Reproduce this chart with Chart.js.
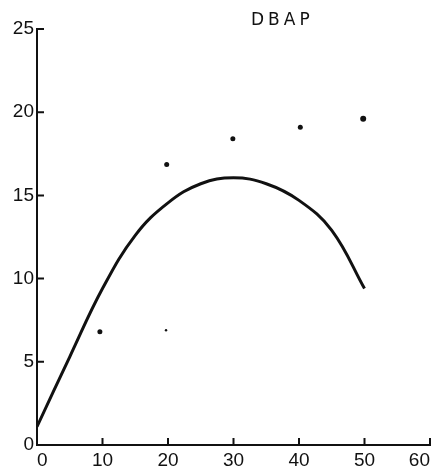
<!DOCTYPE html>
<html>
<head>
<meta charset="utf-8">
<script src="https://cdn.jsdelivr.net/npm/chart.js@4/dist/chart.umd.min.js"></script>
<style>
    html, body { margin: 0; padding: 0; background: #fff; }
    #wrap { position: relative; width: 436px; height: 468px; }
    #title { position: absolute; left: 251px; top: 9px; font: 17px "DejaVu Sans", sans-serif; letter-spacing: 4px; color: #111; }
</style>
</head>
<body>
<div id="wrap">
    <canvas id="dbapChart" width="436" height="468"></canvas>
    <div id="title">DBAP</div>
</div>
<script>
// ==============================================================================
// DATA
// ==============================================================================
const curveX = [0, 5, 10, 15, 20, 25, 30, 35, 40, 45, 50];
const curveY = [1.1, 5.3, 9.4, 12.6, 14.55, 15.7, 16.06, 15.7, 14.7, 12.9, 9.4];

const dotX = [9.6, 19.7, 19.8, 29.9, 40.2, 49.8];
const dotY = [6.8, 6.9, 16.85, 18.4, 19.1, 19.6];
const dotSize = [2.5, 1.2, 2.5, 2.5, 2.5, 3];

const xTicks = [0, 10, 20, 30, 40, 50, 60];
const yTicks = [0, 5, 10, 15, 20, 25];

// ==============================================================================
// HELPERS
// ==============================================================================
const toPoints = (xs, ys) => xs.map((x, i) => ({ x: x, y: ys[i] }));

// small tick marks drawn on the inside of both axes
const innerTicks = {
    id: 'innerTicks',
    afterDatasetsDraw(chart) {
        const ctx = chart.ctx;
        const xs = chart.scales.x, ys = chart.scales.y;
        const area = chart.chartArea;
        ctx.save();
        ctx.strokeStyle = '#111';
        ctx.lineWidth = 2;
        ctx.beginPath();
        yTicks.forEach(v => {
            const py = ys.getPixelForValue(v);
            ctx.moveTo(area.left, py);
            ctx.lineTo(area.left + 7, py);
        });
        xTicks.forEach(v => {
            const px = xs.getPixelForValue(v);
            ctx.moveTo(px, area.bottom);
            ctx.lineTo(px, area.bottom - 7);
        });
        ctx.stroke();
        ctx.restore();
    }
};

// ==============================================================================
// CHART
// ==============================================================================
const tickFont = { family: 'Liberation Sans', size: 19 };

new Chart(document.getElementById('dbapChart'), {
    type: 'scatter',
    data: {
        datasets: [
            {
                type: 'line',
                data: toPoints(curveX, curveY),
                borderColor: '#111',
                borderWidth: 3,
                pointRadius: 0,
                tension: 0.4,
                fill: false
            },
            {
                data: toPoints(dotX, dotY),
                backgroundColor: '#111',
                borderWidth: 0,
                pointRadius: dotSize
            }
        ]
    },
    options: {
        responsive: false,
        animation: false,
        layout: { padding: { top: 29, right: 6, left: 0, bottom: 0 } },
        plugins: { legend: { display: false }, tooltip: { enabled: false } },
        scales: {
            x: {
                type: 'linear',
                min: 0, max: 60,
                afterBuildTicks: s => { s.ticks = xTicks.map(v => ({ value: v })); },
                afterFit: s => { s.height = 23; s.paddingRight = 0; s.paddingLeft = 0; },
                grid: { display: false, drawTicks: false },
                border: { display: true, color: '#111', width: 2 },
                ticks: { color: '#111', font: tickFont, padding: 4, maxRotation: 0, align: 'inner' }
            },
            y: {
                min: 0, max: 25,
                afterBuildTicks: s => { s.ticks = yTicks.map(v => ({ value: v })); },
                afterFit: s => { s.width = 37; },
                grid: { display: false, drawTicks: false },
                border: { display: true, color: '#111', width: 2 },
                ticks: { color: '#111', font: tickFont, padding: 3 }
            }
        }
    },
    plugins: [innerTicks]
});
</script>
</body>
</html>
